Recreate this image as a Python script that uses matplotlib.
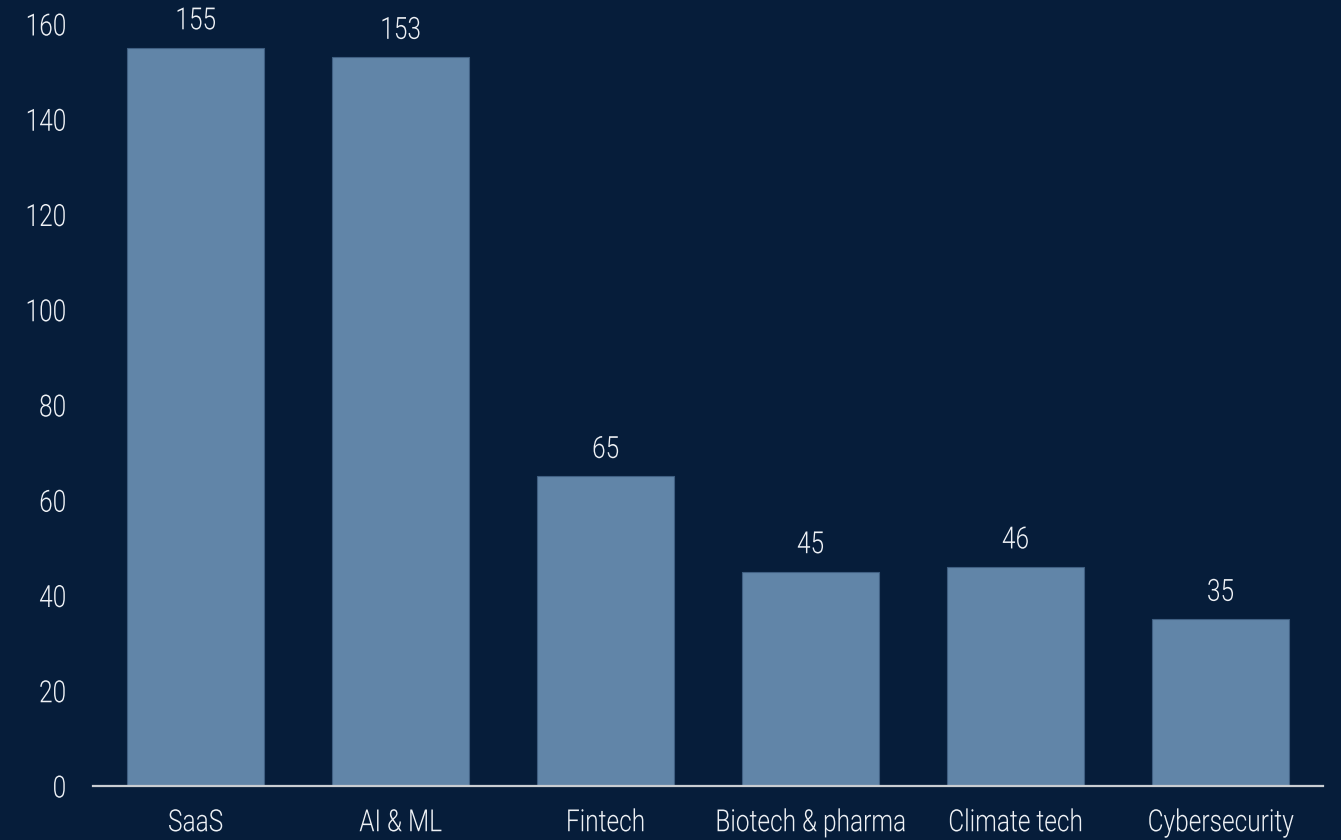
import matplotlib
matplotlib.use("Agg")
import matplotlib.pyplot as plt
from matplotlib import font_manager
from matplotlib.patheffects import AbstractPathEffect
from matplotlib.transforms import Affine2D

categories = ["SaaS", "AI & ML", "Fintech", "Biotech & pharma", "Climate tech", "Cybersecurity"]
values = [155, 153, 65, 45, 46, 35]
y_ticks = [0, 20, 40, 60, 80, 100, 120, 140, 160]

available = {f.name for f in font_manager.fontManager.ttflist}
family = [f for f in ["Roboto", "DejaVu Sans"] if f in available]
plt.rcParams["font.family"] = family


class Narrow(AbstractPathEffect):
    """Draw text glyphs horizontally condensed around an anchor."""

    def __init__(self, sx=0.8, anchor="center"):
        super().__init__()
        self.sx = sx
        self.anchor = anchor

    def draw_path(self, renderer, gc, tpath, affine, rgbFace=None):
        ext = tpath.get_extents()
        if self.anchor == "right":
            cx = ext.x1
        elif self.anchor == "left":
            cx = ext.x0
        else:
            cx = 0.5 * (ext.x0 + ext.x1)
        t = Affine2D().translate(-cx, 0).scale(self.sx, 1).translate(cx, 0) + affine
        renderer.draw_path(gc, tpath, t, rgbFace)


SX = 0.80
FS = 22
WEIGHT = 300
bg = "#061d3a"
bar_color = "#6185a8"
text_color = "#eef1f5"

fig = plt.figure(figsize=(13.41, 8.40), dpi=100, facecolor=bg)
ax = fig.add_axes([93 / 1341, 54 / 840, (1323 - 93) / 1341, (786 - 24) / 840])
ax.set_facecolor(bg)

x = list(range(len(categories)))
ax.bar(x, values, width=0.665, color=bar_color, edgecolor="#3f5f82", linewidth=0.8, zorder=2)

for xi, v in zip(x, values):
    ax.annotate(str(v), (xi, v), xytext=(0, 9), textcoords="offset points",
                ha="center", va="bottom", color=text_color, fontsize=FS,
                fontweight=WEIGHT, clip_on=False,
                path_effects=[Narrow(SX, "center")])

ax.set_xlim(-0.5, 5.5)
ax.set_ylim(0, 160)
ax.set_yticks(y_ticks)
ax.set_yticklabels([str(t) for t in y_ticks])
ax.set_xticks(x)
ax.set_xticklabels(categories)

ax.tick_params(axis="y", length=0, pad=19, labelsize=FS, labelcolor=text_color)
ax.tick_params(axis="x", length=0, pad=16, labelsize=FS, labelcolor=text_color)

for lab in ax.get_yticklabels():
    lab.set_fontweight(WEIGHT)
    lab.set_path_effects([Narrow(SX, "right")])
for lab in ax.get_xticklabels():
    lab.set_fontweight(WEIGHT)
    lab.set_path_effects([Narrow(SX, "center")])

for side in ["top", "right", "left"]:
    ax.spines[side].set_visible(False)
ax.spines["bottom"].set_color("#c9cdd2")
ax.spines["bottom"].set_linewidth(1.6)
ax.spines["bottom"].set_zorder(3)

fig.savefig("out.png", dpi=100, facecolor=bg)
